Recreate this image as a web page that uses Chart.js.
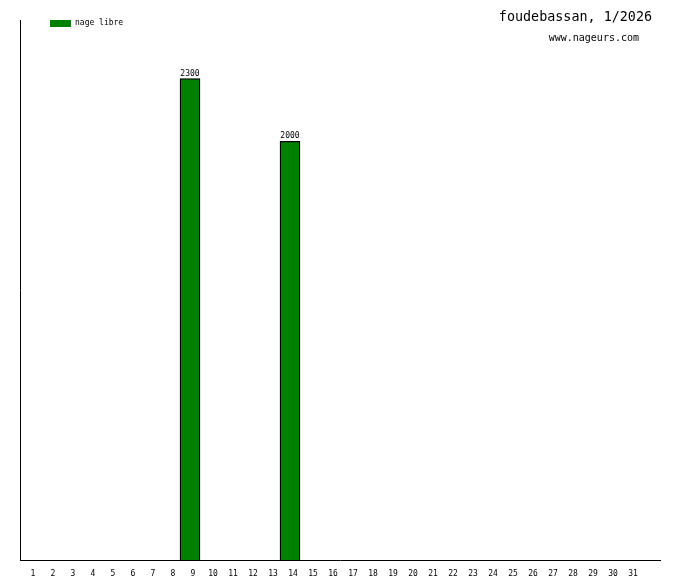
<!DOCTYPE html>
<html><head><meta charset="utf-8">
<script src="https://cdn.jsdelivr.net/npm/chart.js@4"></script>
<style>html,body{margin:0;padding:0;background:#fff}#c{display:block}</style>
</head><body>
<canvas id="c" width="680" height="580"></canvas>
<script>
const days = ['1','2','3','4','5','6','7','8','9','10','11','12','13','14','15','16','17','18','19','20','21','22','23','24','25','26','27','28','29','30','31',''];
const nageLibre = [null,null,null,null,null,null,null,null,2300,null,null,null,null,2000,null,null,null,null,null,null,null,null,null,null,null,null,null,null,null,null,null,null];
const seriesName = 'nage libre';
const titleText = 'foudebassan, 1/2026';
const subtitleText = 'www.nageurs.com';
const yMax = 2580;

const mono = '"DejaVu Sans Mono", monospace';
const overlay = {
  id: 'overlay',
  afterDatasetsDraw(chart) {
    const ctx = chart.ctx;
    ctx.save();
    ctx.fillStyle = '#000';
    ctx.font = '8px ' + mono;
    ctx.textAlign = 'center';
    ctx.textBaseline = 'bottom';
    const meta = chart.getDatasetMeta(0);
    meta.data.forEach((el, i) => {
      const v = chart.data.datasets[0].data[i];
      if (v == null) return;
      ctx.fillText(String(v), el.x, el.y - 1);
    });
    // legend
    ctx.fillStyle = chart.data.datasets[0].backgroundColor;
    ctx.fillRect(50, 20, 21, 7);
    ctx.fillStyle = '#000';
    ctx.textAlign = 'left';
    ctx.textBaseline = 'middle';
    ctx.font = '8px ' + mono;
    ctx.fillText(chart.data.datasets[0].label, 75, 23);
    // title
    ctx.textAlign = 'right';
    ctx.font = '13.4px ' + mono;
    ctx.fillText(titleText, 652, 18);
    ctx.font = '10px ' + mono;
    ctx.fillText(subtitleText, 639, 38);
    ctx.restore();
  }
};

new Chart(document.getElementById('c'), {
  type: 'bar',
  data: {
    labels: days,
    datasets: [{
      label: seriesName,
      data: nageLibre,
      backgroundColor: '#008000',
      borderColor: '#000',
      borderWidth: 1.3,
      borderSkipped: 'bottom',
      barPercentage: 1,
      categoryPercentage: 1
    }]
  },
  options: {
    responsive: false,
    animation: false,
    layout: { padding: { left: 20, right: 20, top: 20, bottom: 0 } },
    plugins: { legend: { display: false }, tooltip: { enabled: false } },
    scales: {
      x: {
        offset: true,
        grid: { display: false, drawTicks: false },
        border: { display: true, color: '#000', width: 1 },
        ticks: { color: '#000', font: { family: mono, size: 8 }, maxRotation: 0, autoSkip: false, padding: 9, labelOffset: 3 },
        afterFit(s) { s.height = 20; }
      },
      y: {
        min: 0, max: yMax,
        grid: { display: false, drawTicks: false },
        border: { display: true, color: '#000', width: 1 },
        ticks: { display: false },
        afterFit(s) { s.width = 0; }
      }
    }
  },
  plugins: [overlay]
});
</script>
</body></html>
